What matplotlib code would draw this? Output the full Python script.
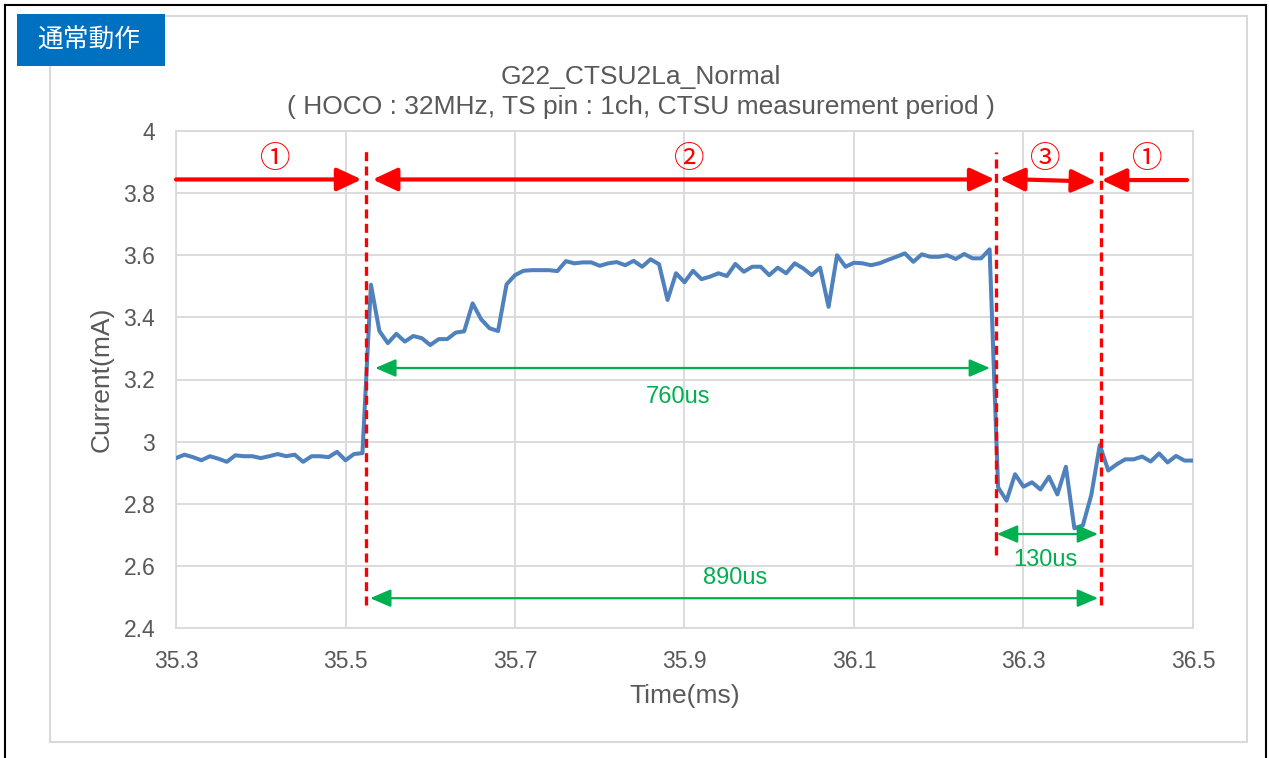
import matplotlib
matplotlib.use("Agg")
import matplotlib.pyplot as plt
from matplotlib.patches import Rectangle
from matplotlib.lines import Line2D

plt.rcParams['font.family'] = ['Liberation Sans', 'Noto Sans CJK JP', 'DejaVu Sans']

# ---------------- data ----------------
time_ms = [
    35.30, 35.31, 35.32, 35.33, 35.34, 35.35, 35.36, 35.37, 35.38, 35.39,
    35.40, 35.41, 35.42, 35.43, 35.44, 35.45, 35.46, 35.47, 35.48, 35.49,
    35.50, 35.51, 35.52, 35.53, 35.54, 35.55, 35.56, 35.57, 35.58, 35.59,
    35.60, 35.61, 35.62, 35.63, 35.64, 35.65, 35.66, 35.67, 35.68, 35.69,
    35.70, 35.71, 35.72, 35.73, 35.74, 35.75, 35.76, 35.77, 35.78, 35.79,
    35.80, 35.81, 35.82, 35.83, 35.84, 35.85, 35.86, 35.87, 35.88, 35.89,
    35.90, 35.91, 35.92, 35.93, 35.94, 35.95, 35.96, 35.97, 35.98, 35.99,
    36.00, 36.01, 36.02, 36.03, 36.04, 36.05, 36.06, 36.07, 36.08, 36.09,
    36.10, 36.11, 36.12, 36.13, 36.14, 36.15, 36.16, 36.17, 36.18, 36.19,
    36.20, 36.21, 36.22, 36.23, 36.24, 36.25, 36.26, 36.27, 36.28, 36.29,
    36.30, 36.31, 36.32, 36.33, 36.34, 36.35, 36.36, 36.37, 36.38, 36.39,
    36.40, 36.41, 36.42, 36.43, 36.44, 36.45, 36.46, 36.47, 36.48, 36.49,
    36.50,
]

current_ma = [
    2.947, 2.958, 2.950, 2.940, 2.953, 2.945, 2.935, 2.956, 2.953, 2.953,
    2.947, 2.953, 2.960, 2.953, 2.958, 2.935, 2.953, 2.953, 2.950, 2.967,
    2.940, 2.960, 2.963, 3.505, 3.356, 3.317, 3.347, 3.322, 3.340, 3.333,
    3.311, 3.330, 3.330, 3.351, 3.355, 3.445, 3.394, 3.365, 3.356, 3.506,
    3.536, 3.550, 3.552, 3.552, 3.552, 3.549, 3.581, 3.574, 3.577, 3.577,
    3.566, 3.574, 3.578, 3.568, 3.582, 3.563, 3.587, 3.571, 3.456, 3.542,
    3.513, 3.550, 3.523, 3.531, 3.542, 3.533, 3.572, 3.547, 3.563, 3.563,
    3.536, 3.560, 3.542, 3.574, 3.558, 3.536, 3.560, 3.434, 3.600, 3.563,
    3.576, 3.574, 3.568, 3.574, 3.585, 3.595, 3.606, 3.579, 3.603, 3.595,
    3.595, 3.600, 3.588, 3.604, 3.590, 3.590, 3.619, 2.853, 2.810, 2.895,
    2.855, 2.869, 2.846, 2.887, 2.830, 2.919, 2.721, 2.730, 2.828, 2.989,
    2.907, 2.927, 2.943, 2.943, 2.952, 2.936, 2.962, 2.933, 2.954, 2.939,
    2.939,
]

x_ticks = [35.3, 35.5, 35.7, 35.9, 36.1, 36.3, 36.5]
x_tick_labels = ["35.3", "35.5", "35.7", "35.9", "36.1", "36.3", "36.5"]
y_ticks = [2.4, 2.6, 2.8, 3.0, 3.2, 3.4, 3.6, 3.8, 4.0]
y_tick_labels = ["2.4", "2.6", "2.8", "3", "3.2", "3.4", "3.6", "3.8", "4"]

title_lines = ["G22_CTSU2La_Normal",
               "( HOCO : 32MHz, TS pin : 1ch, CTSU measurement period )"]
badge_text = "通常動作"
x_label = "Time(ms)"
y_label = "Current(mA)"

# phase boundaries (ms)
boundaries = [35.5236, 36.2676, 36.392]
phase_labels = ["①", "②", "③", "①"]
duration_labels = ["760us", "130us", "890us"]

# ---------------- style ----------------
GRAY_TXT = "#595959"
GRID = "#D9D9D9"
LINE = "#4F81BD"
RED = "#FF0000"
GREEN = "#00B050"

W, H = 1269, 758
fig = plt.figure(figsize=(W / 100, H / 100), dpi=100)
fig.patch.set_facecolor("white")

ax = fig.add_axes([176 / W, 1 - 628 / H, (1193 - 176) / W, (628 - 131) / H])
ax.plot(time_ms, current_ma, color=LINE, lw=2.9, solid_joinstyle="round", zorder=3)

ax.set_xlim(35.3, 36.5)
ax.set_ylim(2.4, 4.0)
ax.set_xticks(x_ticks)
ax.set_xticklabels(x_tick_labels)
ax.set_yticks(y_ticks)
ax.set_yticklabels(y_tick_labels)
ax.tick_params(length=0, labelsize=16.5, colors=GRAY_TXT)
ax.tick_params(axis="x", pad=16)
ax.tick_params(axis="y", pad=15)
ax.grid(True, color=GRID, lw=1.3)
ax.set_axisbelow(True)
for s in ax.spines.values():
    s.set_color(GRID)
    s.set_linewidth(1.3)

ax.set_xlabel(x_label, fontsize=19, color=GRAY_TXT, labelpad=8)
ax.set_ylabel(y_label, fontsize=19, color=GRAY_TXT, labelpad=7)

# titles
fig.text(641 / W, 1 - 77 / H, title_lines[0], ha="center", va="center",
         fontsize=19, color=GRAY_TXT)
fig.text(641 / W, 1 - 107 / H, title_lines[1], ha="center", va="center",
         fontsize=19, color=GRAY_TXT)

# dashed phase boundaries
dash_spans = [(2.474, 3.948), (2.635, 3.932), (2.474, 3.939)]
for xb, (y0, y1) in zip(boundaries, dash_spans):
    ax.plot([xb, xb], [y0, y1], color=RED, lw=2.4, ls=(0, (2.7, 1.6)),
            zorder=4, clip_on=False)

# red phase arrows
red_single = dict(arrowstyle="-|>,head_length=0.75,head_width=0.35",
                  color=RED, lw=3, shrinkA=0, shrinkB=0, mutation_scale=20)
red_double = dict(arrowstyle="<|-|>,head_length=0.75,head_width=0.35",
                  color=RED, lw=3, shrinkA=0, shrinkB=0, mutation_scale=20)
ax.annotate("", xy=(35.519, 3.844), xytext=(35.3, 3.844), arrowprops=red_single, zorder=5)
ax.annotate("", xy=(36.266, 3.844), xytext=(35.532, 3.844), arrowprops=red_double, zorder=5)
ax.annotate("", xy=(36.386, 3.837), xytext=(36.272, 3.846), arrowprops=red_double, zorder=5)
ax.annotate("", xy=(36.392, 3.842), xytext=(36.493, 3.842), arrowprops=red_single, zorder=5)

phase_pos = [35.417, 35.906, 36.326, 36.446]
for xp, lab in zip(phase_pos, phase_labels):
    ax.text(xp, 3.907, lab, ha="center", va="center", fontsize=22, color=RED,
            family=["Noto Sans CJK JP", "DejaVu Sans"], zorder=5)

# green duration arrows
green_double = dict(arrowstyle="<|-|>,head_length=0.7,head_width=0.3",
                    color=GREEN, lw=1.6, shrinkA=0, shrinkB=0, mutation_scale=18)
ax.annotate("", xy=(36.2605, 3.237), xytext=(35.535, 3.237), arrowprops=green_double, zorder=5)
ax.annotate("", xy=(36.388, 2.7025), xytext=(36.2686, 2.7025), arrowprops=green_double, zorder=5)
ax.annotate("", xy=(36.388, 2.496), xytext=(35.529, 2.496), arrowprops=green_double, zorder=5)
ax.text(35.892, 3.144, duration_labels[0], ha="center", va="center", fontsize=17, color=GREEN)
ax.text(36.3254, 2.619, duration_labels[1], ha="center", va="center", fontsize=17, color=GREEN)
ax.text(35.9596, 2.561, duration_labels[2], ha="center", va="center", fontsize=17, color=GREEN)

# inner gray frame
fig.add_artist(Rectangle((50 / W, 1 - 742 / H), (1247 - 50) / W, (742 - 16) / H,
                         transform=fig.transFigure, fill=False, edgecolor=GRID, lw=1.5))
# outer black border (left, top, right)
fig.add_artist(Line2D([5 / W, 5 / W], [0, 1 - 5 / H], transform=fig.transFigure,
                      color="black", lw=1.5))
fig.add_artist(Line2D([5 / W, 1266 / W], [1 - 5 / H, 1 - 5 / H], transform=fig.transFigure,
                      color="black", lw=1.5))
fig.add_artist(Line2D([1266 / W, 1266 / W], [0, 1 - 5 / H], transform=fig.transFigure,
                      color="black", lw=1.5))

# blue badge
fig.add_artist(Rectangle((17 / W, 1 - 66 / H), 148 / W, 52 / H, transform=fig.transFigure,
                         facecolor="#0070C0", edgecolor="none"))
fig.text(89 / W, 1 - 41 / H, badge_text, ha="center", va="center", fontsize=18.5,
         color="white", family=["Noto Sans CJK JP", "DejaVu Sans"])

fig.savefig("out.png", dpi=100, facecolor="white")
